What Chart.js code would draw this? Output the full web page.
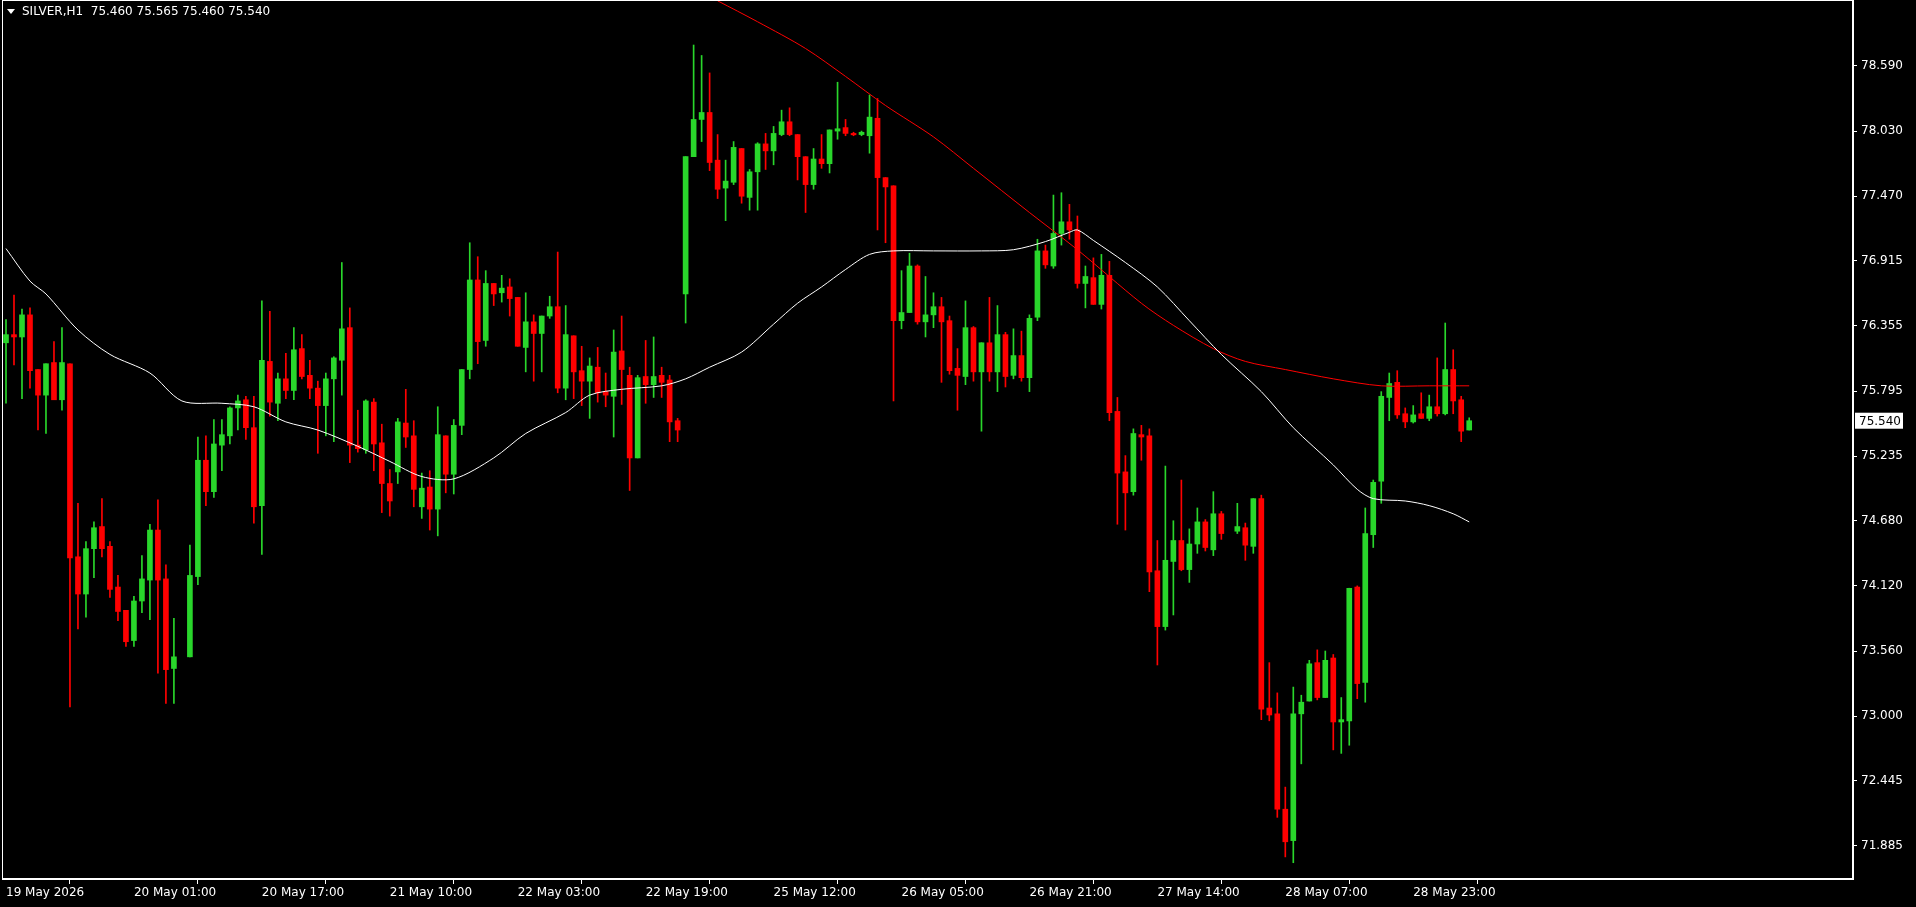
<!DOCTYPE html>
<html><head><meta charset="utf-8">
<script src="https://cdn.jsdelivr.net/npm/chart.js@4.4.1/dist/chart.umd.min.js"></script>
<style>html,body{margin:0;padding:0;background:#000;overflow:hidden}#w{width:1916px;height:907px}</style>
</head><body><div id="w"><canvas id="c"></canvas></div>
<script>
const title = "SILVER,H1  75.460 75.565 75.460 75.540";
const lastPrice = 75.54;
const priceTicks = [78.590,78.030,77.470,76.915,76.355,75.795,75.235,74.680,74.120,73.560,73.000,72.445,71.885];
const timeLabels = ["19 May 2026","20 May 01:00","20 May 17:00","21 May 10:00","22 May 03:00","22 May 19:00","25 May 12:00","26 May 05:00","26 May 21:00","27 May 14:00","28 May 07:00","28 May 23:00"];
const N=null;
const opens = [76.21,76.28,76.26,76.45,75.98,75.76,76.04,75.72,76.03,74.37,74.05,74.44,74.63,74.46,74.11,73.91,73.65,73.99,74.17,74.60,74.18,73.41,N,73.51,74.20,75.20,74.93,75.33,75.41,75.65,75.72,75.48,74.81,76.05,75.69,75.90,75.80,76.16,75.93,75.82,75.67,75.90,76.06,76.34,75.33,75.29,75.70,75.35,75.00,75.10,75.52,75.41,74.80,74.97,74.78,75.41,75.08,75.50,75.98,76.75,76.23,76.72,76.64,76.69,76.60,76.17,76.39,76.29,76.44,76.52,75.82,76.27,75.97,75.88,76.00,75.79,75.75,76.14,75.93,75.22,75.92,75.85,75.93,75.89,75.54,76.63,77.81,78.13,78.19,77.78,77.54,77.59,77.88,77.46,77.68,77.92,77.86,78.00,78.11,78.00,77.81,77.57,77.79,77.75,78.03,78.06,78.01,78.00,77.99,78.14,77.63,77.56,76.40,76.47,76.87,76.39,76.45,76.52,76.40,75.99,75.92,76.34,75.96,76.21,75.96,76.28,75.93,76.10,75.91,76.43,77.00,76.87,77.15,77.25,77.18,76.72,76.77,76.54,76.79,75.62,75.10,74.93,75.42,75.41,74.25,73.77,74.33,74.51,74.26,74.48,74.67,74.43,74.74,N,74.59,74.62,74.46,74.87,73.07,73.02,72.20,71.93,73.02,73.13,73.46,73.16,73.50,72.95,72.96,74.11,73.29,74.56,75.02,75.74,75.87,75.60,75.53,75.60,75.56,75.66,75.60,75.98,75.72,75.46];
const highs = [76.41,76.62,76.50,76.51,75.98,76.03,76.22,76.34,76.03,74.83,74.50,74.67,74.87,74.50,74.21,73.91,74.03,74.38,74.65,74.86,74.30,73.84,N,74.47,75.40,75.41,75.55,75.55,75.66,75.76,75.75,75.75,76.57,76.48,75.95,76.12,76.34,76.28,76.06,75.88,75.95,76.09,76.90,76.51,75.63,75.72,75.73,75.51,75.12,75.56,75.81,75.54,75.09,75.11,75.66,75.41,75.55,75.98,77.07,76.95,76.83,76.72,76.79,76.76,76.60,76.64,76.45,76.44,76.61,76.99,76.53,76.27,76.18,76.08,76.17,75.95,76.32,76.44,76.00,75.93,76.23,76.26,76.00,75.93,75.56,77.81,78.77,78.68,78.53,78.00,77.78,77.94,77.88,77.70,77.93,78.01,78.07,78.21,78.23,78.00,77.81,77.88,78.00,78.04,78.45,78.13,78.02,78.03,78.34,78.31,77.63,77.56,76.83,76.98,76.88,76.78,76.64,76.60,76.44,76.16,76.57,76.35,76.21,76.60,76.53,76.30,76.33,76.31,76.45,77.10,77.05,77.48,77.50,77.40,77.30,76.87,76.94,76.97,76.91,75.74,75.24,75.47,75.50,75.47,74.51,75.15,74.68,75.03,74.61,74.79,74.69,74.93,74.76,N,74.83,74.66,74.87,74.90,73.46,73.20,72.39,73.25,73.18,73.48,73.57,73.56,73.53,73.16,74.10,74.12,74.79,75.03,75.79,75.95,75.97,75.65,75.67,75.78,75.76,76.08,76.38,76.15,75.75,75.565];
const lows = [75.69,76.02,75.73,75.82,75.46,75.43,75.72,75.63,73.08,73.75,73.85,74.19,74.37,74.02,73.82,73.60,73.60,73.89,73.83,73.37,73.11,73.11,N,73.51,74.13,74.81,74.88,75.11,75.34,75.46,75.38,74.66,74.39,75.58,75.54,75.73,75.72,75.90,75.73,75.26,75.41,75.36,75.76,75.18,75.27,75.26,75.11,74.75,74.72,75.00,75.31,74.80,74.70,74.60,74.55,74.92,74.91,75.42,75.90,76.03,76.18,76.53,76.56,76.44,76.18,75.96,75.88,75.96,76.42,75.78,75.72,75.73,75.67,75.56,75.70,75.66,75.40,75.68,74.94,75.22,75.69,75.74,75.74,75.36,75.36,76.38,77.81,77.94,77.69,77.45,77.26,77.57,77.41,77.35,77.35,77.70,77.74,77.99,77.99,77.61,77.33,77.53,77.71,77.67,77.96,77.99,77.99,77.99,77.84,77.18,77.07,75.71,76.33,76.47,76.37,76.26,76.34,75.87,75.94,75.63,75.85,75.88,75.45,75.88,75.79,75.83,75.90,75.88,75.79,76.40,76.85,76.85,77.05,77.10,76.68,76.51,76.54,76.50,75.54,74.65,74.60,74.90,75.20,74.07,73.44,73.74,73.87,74.25,74.15,74.40,74.42,74.38,74.52,N,74.57,74.34,74.40,72.97,72.96,72.13,71.79,71.74,72.59,73.13,73.14,73.16,72.71,72.68,72.75,73.15,73.12,74.45,74.83,75.54,75.56,75.48,75.52,75.56,75.54,75.58,75.59,75.60,75.36,75.46];
const closes = [76.28,76.26,76.45,75.97,75.76,76.03,75.72,76.04,74.36,74.05,74.44,74.62,74.44,74.09,73.90,73.64,73.99,74.18,74.60,74.17,73.40,73.51,N,74.21,75.20,74.93,75.34,75.42,75.65,75.71,75.48,74.80,76.06,75.70,75.90,75.80,76.15,75.92,75.82,75.67,75.90,76.08,76.33,75.33,75.30,75.71,75.34,75.00,74.85,75.53,75.40,74.95,74.96,74.78,75.42,75.08,75.50,75.98,76.75,76.22,76.72,76.63,76.68,76.59,76.18,76.39,76.29,76.44,76.52,75.82,76.28,75.96,75.88,76.01,75.78,75.76,76.13,75.98,75.22,75.91,75.85,75.92,75.87,75.53,75.46,77.81,78.13,78.19,77.76,77.53,77.60,77.89,77.47,77.68,77.92,77.86,78.01,78.11,78.00,77.81,77.57,77.79,77.75,78.04,78.05,78.01,78.00,78.02,78.15,77.63,77.55,76.40,76.47,76.87,76.39,76.45,76.52,76.39,75.97,75.93,76.34,75.96,76.21,75.96,76.28,75.92,76.10,75.91,76.42,77.00,76.88,77.15,77.25,77.18,76.72,76.78,76.54,76.79,75.61,75.09,74.92,75.43,75.40,74.24,73.77,74.34,74.51,74.26,74.48,74.67,74.45,74.74,74.57,N,74.63,74.47,74.87,73.06,73.01,72.20,71.92,73.02,73.12,73.45,73.16,73.48,72.95,72.97,74.10,73.28,74.57,75.01,75.75,75.86,75.59,75.53,75.59,75.56,75.66,75.60,75.98,75.71,75.45,75.54];
const maWhiteIdx = [0,3,5,9,13,18,22,27,31,35,39,44,48,52,56,61,65,70,73,77,82,85,88,92,96,99,102,105,108,111,116,122,126,130,133,134,136,140,144,148,152,157,161,166,169,171,175,178,181,183];
const maWhiteVal = [77.02,76.74,76.63,76.32,76.11,75.95,75.71,75.69,75.66,75.53,75.46,75.32,75.19,75.06,75.04,75.22,75.43,75.61,75.76,75.81,75.84,75.90,76.00,76.13,76.37,76.55,76.69,76.84,76.97,77.00,77.00,77.00,77.01,77.08,77.16,77.18,77.09,76.90,76.69,76.40,76.11,75.79,75.48,75.16,74.95,74.87,74.85,74.81,74.74,74.67];
const maRedIdx = [89,94,100,105,110,116,121,128,134,142,146,151,155,160,166,172,178,183];
const maRedVal = [79.15,78.97,78.74,78.50,78.25,77.98,77.71,77.33,77.01,76.55,76.36,76.16,76.05,75.98,75.90,75.84,75.84,75.84];

const GREEN='#29d62b', RED='#ff0000';
const wick=[], body=[], col=[];
for(let i=0;i<opens.length;i++){
  if(opens[i]===null){wick.push({x:i,y:null});body.push({x:i,y:null});col.push(GREEN);continue;}
  wick.push({x:i,y:[lows[i],highs[i]]});
  let o=opens[i],c=closes[i];
  if(Math.abs(o-c)<0.012){c=o+(c>=o?0.012:-0.012);}
  body.push({x:i,y:[o,c]});
  col.push(closes[i]>=opens[i]?GREEN:RED);
}
const frame={id:'frame',afterDraw(ch){
  const a=ch.chartArea,ctx=ch.ctx,y=ch.scales.y;
  ctx.save();ctx.strokeStyle='#ffffff';ctx.lineWidth=1;
  ctx.strokeRect(a.left+0.5,a.top+0.5,a.right-a.left-1,a.bottom-a.top-1);
  ctx.fillStyle='#fff';ctx.beginPath();ctx.moveTo(7,9);ctx.lineTo(15,9);ctx.lineTo(11,14);ctx.fill();
  ctx.font='12px "DejaVu Sans"';ctx.textBaseline='middle';ctx.fillText(title,22,12);
  const py=y.getPixelForValue(lastPrice);
  ctx.fillStyle='#fff';ctx.fillRect(a.right+2,py-8,48,16);
  ctx.fillStyle='#000';ctx.textAlign='left';ctx.fillText(lastPrice.toFixed(3),a.right+6,py+1);
  ctx.restore();}};
new Chart(document.getElementById('c'),{
  data:{datasets:[
    {type:'line',data:maWhiteIdx.map((x,k)=>({x,y:maWhiteVal[k]})),borderColor:'#ffffff',borderWidth:1,pointRadius:0,tension:0.3,order:1},
    {type:'line',data:maRedIdx.map((x,k)=>({x,y:maRedVal[k]})),borderColor:'#ff0000',borderWidth:1,pointRadius:0,tension:0.3,order:1},
    {type:'bar',data:wick,backgroundColor:col,barThickness:1,grouped:false,order:3},
    {type:'bar',data:body,backgroundColor:col,barThickness:5,grouped:false,order:2}
  ]},
  options:{responsive:true,maintainAspectRatio:false,animation:false,
    layout:{padding:{top:0,left:2,right:0,bottom:0}},
    plugins:{legend:{display:false},tooltip:{enabled:false}},
    scales:{
      x:{type:'linear',min:-0.5,max:231,offset:false,
        afterBuildTicks(s){s.ticks=timeLabels.map((t,k)=>({value:k*16}));},
        afterFit(s){s.height=28;s.paddingLeft=0;s.paddingRight=0;},
        ticks:{color:'#fff',font:{size:12,family:'DejaVu Sans'},align:'start',maxRotation:0,autoSkip:false,padding:2,
          callback(v){const k=Math.round(v/16);return timeLabels[k]||'';}},
        grid:{display:true,drawOnChartArea:false,color:'#fff',tickLength:5},border:{color:'#fff'}},
      y:{type:'linear',position:'right',min:71.60,max:79.157,
        afterBuildTicks(s){s.ticks=priceTicks.map(v=>({value:v}));},
        afterFit(s){s.width=63;s.paddingTop=0;s.paddingBottom=0;},
        ticks:{color:'#fff',font:{size:12,family:'DejaVu Sans'},padding:4,callback(v){return Number(v).toFixed(3);}},
        grid:{display:true,drawOnChartArea:false,color:'#fff',tickLength:4},border:{color:'#fff'}}
    }},
  plugins:[frame]
});
</script></body></html>
